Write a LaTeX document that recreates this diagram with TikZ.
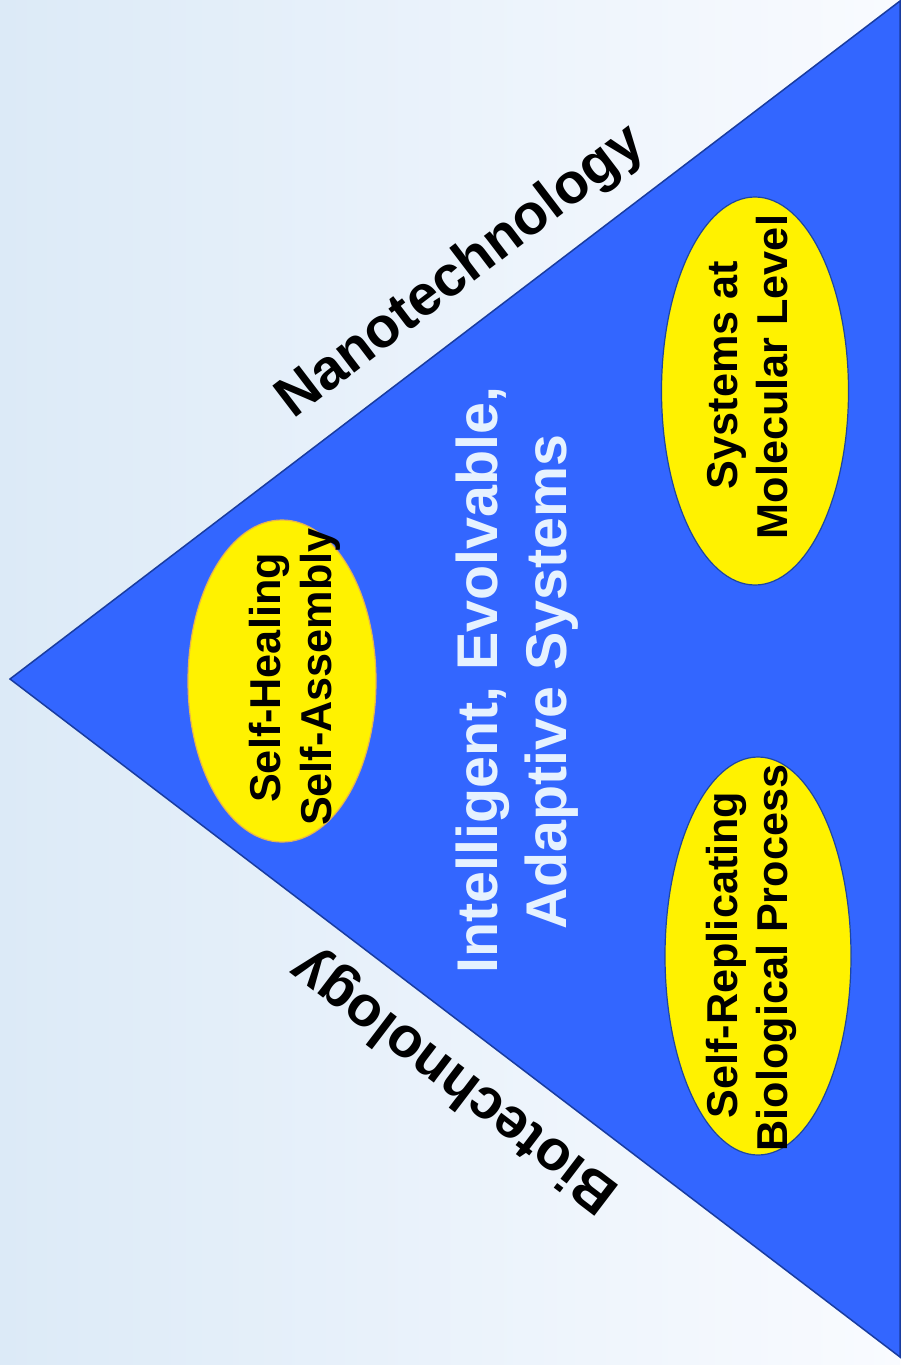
\documentclass[tikz,border=0pt]{standalone}
\usepackage{fontspec}
\setmainfont{Liberation Sans}
\usetikzlibrary{shapes.geometric}
\definecolor{bgL}{RGB}{220,234,247}
\definecolor{bgR}{RGB}{249,251,255}
\definecolor{triFill}{RGB}{51,102,255}
\definecolor{triLine}{RGB}{25,60,160}
\definecolor{ellLine}{RGB}{30,70,160}
\definecolor{ellGold}{RGB}{230,180,80}
\definecolor{ctrText}{RGB}{230,242,255}
\begin{document}
\begin{tikzpicture}[x=0.5pt,y=-0.5pt,
  oval/.style={ellipse, fill=yellow, draw=ellLine, line width=0.6pt, inner sep=0pt},
  ovaltext/.style={rotate=90, anchor=base, font=\fontsize{21.6}{25}\selectfont\bfseries, text=black, inner sep=0pt},
  bigtext/.style={anchor=base, font=\fontsize{28.4}{34}\selectfont\bfseries, inner sep=0pt},
  ctrtext/.style={anchor=base, rotate=90, text=ctrText, font=\fontsize{28.7}{34}\selectfont\bfseries, inner sep=0pt},
]
\shade[left color=bgL, right color=bgR] (0,0) rectangle (900,1365);
\useasboundingbox (0,0) rectangle (900,1365);
\coordinate (apex) at (10,679);
\coordinate (topv) at (900,1);
\coordinate (botv) at (900,1357);
\draw[fill=triFill, draw=triLine, line width=0.75pt, line join=miter] (apex) -- (topv) -- (botv) -- cycle;

\node[oval, draw=ellGold, minimum width=94pt, minimum height=161pt] (heal) at (282,681) {};
\node[oval, minimum width=93.5pt, minimum height=194pt] (mol) at (755,391) {};
\node[oval, minimum width=93pt, minimum height=199pt] (rep) at (758,956) {};

\node[ovaltext] (healA) at (280,678) {Self-Healing};
\node[ovaltext] (healB) at (331,677) {Self-Assembly};
\node[ovaltext] (molA) at (737,375) {Systems at};
\node[ovaltext] (molB) at (787,377) {Molecular Level};
\node[ovaltext] (repA) at (737,955) {Self-Replicating};
\node[ovaltext] (repB) at (787,958) {Biological Process};

\node[ctrtext] (ctrA) at (497,680) {Intelligent, Evolvable,};
\node[ctrtext] (ctrB) at (566,682) {Adaptive Systems};

\node[bigtext, rotate=37.3, text=black] (nano) at (470.5,284.5) {Nanotechnology};
\node[bigtext, rotate=142.7, text=black] (bio) at (464.5,1068) {Biotechnology};
\end{tikzpicture}
\end{document}
